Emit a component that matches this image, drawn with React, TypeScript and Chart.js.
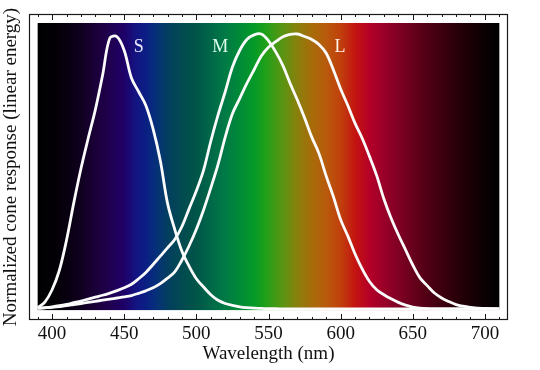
import React, { useEffect, useRef } from 'react';
import { Chart, registerables } from 'chart.js';

Chart.register(...registerables);

// Wavelengths (nm), 5 nm steps from 390 to 710
const WAVELENGTHS: number[] = [
  390, 395, 400, 405, 410, 415, 420, 425, 430, 435, 440, 445, 450, 455, 460, 465, 470, 475, 480, 485,
  490, 495, 500, 505, 510, 515, 520, 525, 530, 535, 540, 545, 550, 555, 560, 565, 570, 575, 580, 585,
  590, 595, 600, 605, 610, 615, 620, 625, 630, 635, 640, 645, 650, 655, 660, 665, 670, 675, 680, 685,
  690, 695, 700, 705, 710,
];

const S_CONE: number[] = [
  0.005, 0.025, 0.07, 0.14, 0.25, 0.385, 0.51, 0.62, 0.725, 0.85, 0.985, 0.99, 0.94, 0.84, 0.79, 0.74, 0.655, 0.54, 0.385, 0.29,
  0.21, 0.155, 0.11, 0.08, 0.052, 0.032, 0.02, 0.013, 0.008, 0.005, 0.003, 0.002, 0.001, 0.001, 0, 0, 0, 0, 0, 0,
  0, 0, 0, 0, 0, 0, 0, 0, 0, 0, 0, 0, 0, 0, 0, 0, 0, 0, 0, 0,
  0, 0, 0, 0, 0,
];

const M_CONE: number[] = [
  0.003, 0.005, 0.008, 0.012, 0.017, 0.023, 0.029, 0.036, 0.043, 0.05, 0.058, 0.067, 0.077, 0.09, 0.11, 0.133, 0.162, 0.192, 0.222, 0.253,
  0.3, 0.365, 0.43, 0.505, 0.61, 0.705, 0.79, 0.88, 0.94, 0.98, 0.997, 1.0, 0.975, 0.935, 0.885, 0.82, 0.76, 0.695, 0.625, 0.565,
  0.483, 0.408, 0.325, 0.265, 0.2, 0.145, 0.1, 0.07, 0.052, 0.037, 0.024, 0.014, 0.007, 0.003, 0.001, 0, 0, 0, 0, 0,
  0, 0, 0, 0, 0,
];

const L_CONE: number[] = [
  0.002, 0.004, 0.006, 0.009, 0.012, 0.016, 0.02, 0.024, 0.028, 0.032, 0.036, 0.04, 0.044, 0.049, 0.057, 0.066, 0.077, 0.092, 0.112, 0.135,
  0.178, 0.23, 0.29, 0.36, 0.44, 0.525, 0.625, 0.71, 0.765, 0.82, 0.87, 0.92, 0.952, 0.972, 0.99, 0.999, 1.0, 0.991, 0.98, 0.962,
  0.93, 0.869, 0.8, 0.74, 0.675, 0.62, 0.555, 0.485, 0.4, 0.33, 0.27, 0.215, 0.16, 0.113, 0.085, 0.058, 0.04, 0.027, 0.016, 0.01,
  0.006, 0.003, 0.002, 0.001, 0,
];

const X_TICKS: number[] = [400, 450, 500, 550, 600, 650, 700];

const CONE_LABELS: string[] = ['S', 'M', 'L'];
const CONE_LABEL_NM: number[] = [460, 516.5, 599.5];
const CONE_LABEL_VALUE: number[] = [0.953, 0.953, 0.953];
const CONE_LABEL_COLORS: string[] = ['#ece8ff', '#dcffec', '#fff2e6'];

// Spectrum background stops
const SPECTRUM_NM: number[] = [
  390, 400, 410, 420, 430, 440, 450, 458, 465, 472, 480, 490, 500, 510, 520, 530, 540, 548, 560, 570,
  580, 590, 600, 610, 620, 630, 640, 650, 660, 680, 700, 710,
];
const SPECTRUM_COLORS: string[] = [
  '#000000', '#020004', '#07000f', '#10001f', '#1a0038', '#200050', '#1e0068', '#141482', '#0a1f84', '#06307a',
  '#033e60', '#024a50', '#005548', '#006848', '#007a45', '#008a38', '#049a28', '#20a018', '#5a9412', '#88800c',
  '#a86c0a', '#b85a0c', '#c0400c', '#c41410', '#b40028', '#9a0028', '#800024', '#68001c', '#500014', '#2a000a',
  '#0a0002', '#000000',
];

const FONT = "'Liberation Serif', 'Times New Roman', serif";

export default function App() {
  const canvasRef = useRef<HTMLCanvasElement | null>(null);

  useEffect(() => {
    const canvas = canvasRef.current;
    if (!canvas) return;

    const spectrumPlugin = {
      id: 'spectrum',
      beforeDatasetsDraw(chart: any) {
        const { ctx, scales } = chart;
        const xs = scales.x;
        const ys = scales.y;
        const x0 = xs.getPixelForValue(390);
        const x1 = xs.getPixelForValue(710);
        const y0 = ys.getPixelForValue(1.04);
        const y1 = ys.getPixelForValue(-0.004);
        const grad = ctx.createLinearGradient(x0, 0, x1, 0);
        SPECTRUM_NM.forEach((nm, i) => {
          grad.addColorStop((nm - 390) / 320, SPECTRUM_COLORS[i]);
        });
        ctx.save();
        ctx.fillStyle = grad;
        ctx.fillRect(x0, y0, x1 - x0, y1 - y0);
        ctx.restore();
      },
    };

    const labelPlugin = {
      id: 'coneLabels',
      afterDatasetsDraw(chart: any) {
        const { ctx, scales } = chart;
        ctx.save();
        ctx.font = `18px ${FONT}`;
        ctx.textAlign = 'center';
        ctx.textBaseline = 'middle';
        CONE_LABELS.forEach((t, i) => {
          ctx.fillStyle = CONE_LABEL_COLORS[i];
          ctx.fillText(t, scales.x.getPixelForValue(CONE_LABEL_NM[i]), scales.y.getPixelForValue(CONE_LABEL_VALUE[i]));
        });
        ctx.restore();
      },
    };

    const framePlugin = {
      id: 'frame',
      afterDraw(chart: any) {
        const { ctx, chartArea, scales } = chart;
        const { left, right, top, bottom } = chartArea;
        ctx.save();
        ctx.strokeStyle = '#1a1a1a';
        ctx.lineWidth = 1.2;
        ctx.strokeRect(left + 0.5, top + 0.5, right - left - 1, bottom - top - 1);
        ctx.lineWidth = 1;
        for (let nm = 390; nm <= 710; nm += 10) {
          const x = Math.round(scales.x.getPixelForValue(nm)) + 0.5;
          const len = nm % 50 === 0 ? 6 : 3;
          ctx.beginPath();
          ctx.moveTo(x, bottom);
          ctx.lineTo(x, bottom - len);
          ctx.moveTo(x, top);
          ctx.lineTo(x, top + len);
          ctx.stroke();
        }
        ctx.restore();
      },
    };

    const makeData = (vals: number[]) => WAVELENGTHS.map((w, i) => ({ x: w, y: vals[i] }));
    const lineStyle = {
      borderColor: '#fbfbfb',
      borderWidth: 2.8,
      pointRadius: 0,
      tension: 0.35,
      fill: false,
    };

    const chart = new Chart(canvas, {
      type: 'line',
      data: {
        datasets: [
          { label: 'S', data: makeData(S_CONE), ...lineStyle },
          { label: 'M', data: makeData(M_CONE), ...lineStyle },
          { label: 'L', data: makeData(L_CONE), ...lineStyle },
        ],
      },
      options: {
        animation: false,
        responsive: true,
        maintainAspectRatio: false,
        layout: { padding: { left: 0, top: 14, right: 32, bottom: 0 } },
        plugins: { legend: { display: false }, tooltip: { enabled: false } },
        scales: {
          x: {
            type: 'linear',
            min: 384,
            max: 716,
            grid: { display: false, drawTicks: false },
            border: { display: false },
            afterBuildTicks: (s: any) => {
              s.ticks = X_TICKS.map((v) => ({ value: v }));
            },
            afterFit: (s: any) => {
              s.height = 50;
            },
            ticks: {
              color: '#111',
              font: { family: FONT, size: 19 },
              padding: 3,
              maxRotation: 0,
              autoSkip: false,
            },
            title: {
              display: true,
              text: 'Wavelength (nm)',
              color: '#111',
              font: { family: FONT, size: 19 },
              padding: { top: 0, bottom: 5 },
            },
          },
          y: {
            type: 'linear',
            min: -0.04,
            max: 1.0727,
            grid: { display: false, drawTicks: false },
            border: { display: false },
            ticks: { display: false },
            afterFit: (s: any) => {
              s.width = 29;
            },
            title: {
              display: true,
              text: 'Normalized cone response (linear energy)',
              color: '#111',
              font: { family: FONT, size: 19 },
              padding: { top: 0, bottom: 0 },
            },
          },
        },
      },
      plugins: [spectrumPlugin, labelPlugin, framePlugin],
    });

    return () => chart.destroy();
  }, []);

  return (
    <div style={{ position: 'fixed', left: 0, top: 0, width: 540, height: 370, background: '#fff' }}>
      <canvas ref={canvasRef} />
    </div>
  );
}
